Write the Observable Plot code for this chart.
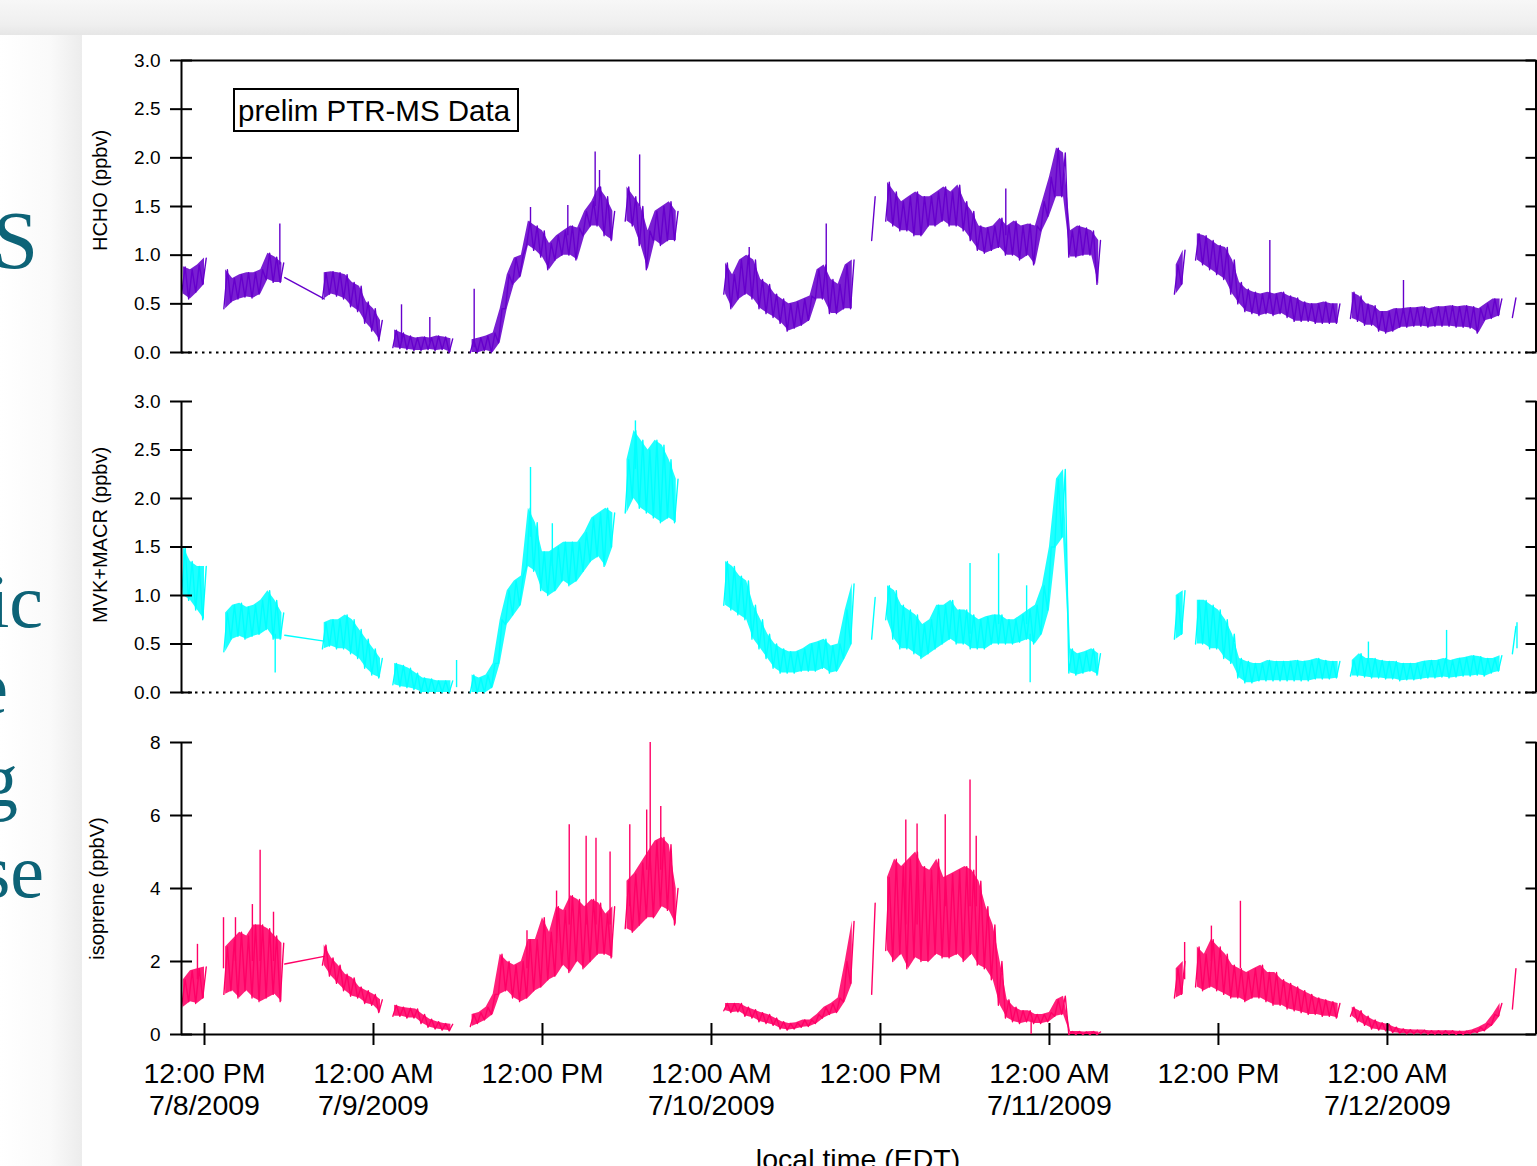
<!DOCTYPE html>
<html><head><meta charset="utf-8">
<script src="https://cdn.jsdelivr.net/npm/d3@7"></script>
<script src="https://cdn.jsdelivr.net/npm/@observablehq/plot@0.6"></script>
<style>
html,body{margin:0;padding:0}
body{width:1537px;height:1166px;overflow:hidden;position:relative;background:#fff;font-family:"Liberation Sans",Arial,sans-serif}
#topband{position:absolute;left:0;top:0;width:1537px;height:35px;background:linear-gradient(to bottom,#f7f7f7 0%,#efefef 70%,#e6e6e6 100%)}
#leftband{position:absolute;left:0;top:35px;width:82px;height:1131px;background:linear-gradient(to right,#ffffff 0px,#fafafa 50px,#ececec 82px)}
#frags{position:absolute;left:0;top:0}
.panel{position:absolute;left:0}
#legend{position:absolute;left:233px;top:88px;width:279px;height:40px;border:2px solid #000;font-size:29.5px;line-height:41px;padding-left:3px;box-sizing:content-box;white-space:nowrap}
#xtitle{position:absolute;left:181px;width:1354px;top:1145px;text-align:center;font-size:28.5px;line-height:28px;white-space:nowrap}
</style>
</head><body>
<div id="topband"></div>
<div id="leftband"></div>
<svg id="frags" width="82" height="1166" font-family="Liberation Serif, DejaVu Serif, serif" fill="#0d6377">
  <text x="38" y="268" text-anchor="end" font-size="82">S</text>
  <text x="43" y="627" text-anchor="end" font-size="76">ic</text>
  <text x="8" y="713" text-anchor="end" font-size="76">e</text>
  <text x="18" y="806" text-anchor="end" font-size="76">g</text>
  <text x="44" y="897" text-anchor="end" font-size="76">se</text>
</svg>
<div id="p1" class="panel" style="top:40px"></div>
<div id="p2" class="panel" style="top:381px"></div>
<div id="p3" class="panel" style="top:722px"></div>
<div id="legend">prelim PTR-MS Data</div>
<div id="xtitle">local time (EDT)</div>
<script>
// time in hours since 12:00 AM 7/8/2009 (EDT); rows: [hour, low, high] of the noisy trace per half hour
const xStart = 10.367, xEnd = 106.55;
const tickHours = [12, 24, 36, 48, 60, 72, 84, 96];
const tickTimes = ["12:00 PM","12:00 AM","12:00 PM","12:00 AM","12:00 PM","12:00 AM","12:00 PM","12:00 AM"];
const tickDates = ["7/8/2009","7/9/2009","","7/10/2009","","7/11/2009","","7/12/2009"];
const ppbTicks = [0, 0.5, 1, 1.5, 2, 2.5, 3];
const isoTicks = [0, 2, 4, 6, 8];

const hcho = [
 [10.5,.6,.88],[11,.55,.85],[11.5,.62,.9],[12,.7,.97],
 [13.5,.45,.85],[14,.52,.76],[14.5,.55,.8],[15,.57,.82],[15.5,.56,.82],[16,.6,.85],[16.5,.75,1.02],[17,.72,.98],[17.5,.72,.92],
 [20.5,.55,.82],[21,.6,.83],[21.5,.58,.82],[22,.55,.8],[22.5,.47,.72],[23,.42,.68],[23.5,.3,.52],[24,.22,.45],[24.5,.12,.33],
 [25.5,.05,.23],[26,.04,.2],[26.5,.03,.17],[27,.02,.15],[27.5,.02,.16],[28,.03,.15],[28.5,.02,.17],[29,.03,.16],[29.5,0,.14],
 [31,0,.13],[31.5,0,.15],[32,.02,.17],[32.5,0,.2],[33,.1,.45],[33.5,.45,.8],[34,.7,.97],[34.5,.78,1],[35,1.1,1.35],[35.5,1.05,1.3],[36,.98,1.25],[36.5,.85,1.12],[37,.95,1.2],[37.5,1,1.25],[38,1,1.3],[38.5,.95,1.28],[39,1.2,1.45],[39.5,1.3,1.55],[40,1.3,1.7],[40.5,1.2,1.6],[41,1.15,1.45],
 [42,1.35,1.7],[42.5,1.3,1.6],[43,1.1,1.5],[43.5,.85,1.25],[44,1.15,1.45],[44.5,1.1,1.5],[45,1.15,1.55],[45.5,1.15,1.45],
 [49,.6,.92],[49.5,.45,.8],[50,.55,.95],[50.5,.6,1],[51,.55,.95],[51.5,.45,.75],[52,.4,.7],[52.5,.36,.6],[53,.3,.55],[53.5,.22,.5],[54,.25,.52],[54.5,.28,.55],[55,.33,.58],[55.5,.55,.85],[56,.55,.9],[56.5,.4,.75],[57,.4,.7],[57.5,.45,.9],[58,.45,.95],
 [59.5,1.15,1.6],
 [60.5,1.35,1.75],[61,1.3,1.65],[61.5,1.25,1.55],[62,1.25,1.6],[62.5,1.2,1.65],[63,1.2,1.6],[63.5,1.3,1.6],[64,1.3,1.65],[64.5,1.35,1.7],[65,1.3,1.65],[65.5,1.3,1.72],[66,1.25,1.55],[66.5,1.15,1.45],[67,1.05,1.3],[67.5,1.02,1.28],[68,1.05,1.3],[68.5,1.08,1.38],[69,1,1.3],[69.5,1,1.35],[70,.95,1.3],[70.5,1,1.32],[71,.9,1.3],[71.5,1.25,1.55],[72,1.4,1.8],[72.5,1.6,2.1],[73,1.6,2.05],[73.5,.98,1.25],[74,.98,1.3],[74.5,1,1.28],[75,1,1.25],[75.5,.7,1.15],
 [81,.6,.9],[81.5,.7,1.05],
 [82.5,.95,1.22],[83,.9,1.2],[83.5,.85,1.15],[84,.8,1.1],[84.5,.75,1.08],[85,.6,.95],[85.5,.5,.72],[86,.42,.65],[86.5,.4,.62],[87,.38,.6],[87.5,.4,.62],[88,.38,.6],[88.5,.4,.62],[89,.36,.58],[89.5,.32,.56],[90,.32,.52],[90.5,.32,.5],[91,.3,.5],[91.5,.3,.52],[92,.3,.5],[92.5,.3,.5],
 [93.5,.35,.62],[94,.32,.58],[94.5,.28,.5],[95,.28,.48],[95.5,.22,.42],[96,.2,.42],[96.5,.22,.45],[97,.26,.45],[97.5,.26,.46],[98,.27,.46],[98.5,.27,.47],[99,.26,.45],[99.5,.27,.47],[100,.27,.47],[100.5,.27,.48],[101,.26,.47],[101.5,.26,.48],[102,.25,.47],[102.5,.2,.45],[103,.33,.5],[103.5,.35,.55],[104,.38,.55],
 [105,.36,.56]
];
const hchoSpikes = [[17.35,.9,1.32],[25.99,.1,.49],[28,.1,.36],[31.15,.05,.65],[35.15,1.3,1.49],[37.8,1.2,1.51],[39.74,1.5,2.06],[40.05,1.6,1.87],[42.9,1.5,2.03],[50.68,.9,1.08],[56.15,.8,1.32],[68.9,1.2,1.68],[87.65,.55,1.15],[97.14,.4,.74]];
const hchoBridge = [[17.7,.77],[20.5,.55]];

const mvk = [
 [10.5,1,1.5],[11,.95,1.35],[11.5,.85,1.3],[12,.75,1.3],
 [13.5,.42,.82],[14,.55,.9],[14.5,.58,.92],[15,.55,.88],[15.5,.58,.9],[16,.6,.95],[16.5,.65,1.05],[17,.55,.95],[17.5,.55,.82],
 [20.5,.45,.72],[21,.48,.75],[21.5,.45,.75],[22,.45,.8],[22.5,.4,.75],[23,.35,.65],[23.5,.25,.55],[24,.18,.45],[24.5,.15,.35],
 [25.5,.08,.3],[26,.06,.28],[26.5,.05,.25],[27,.03,.2],[27.5,0,.15],[28,0,.14],[28.5,0,.12],[29,0,.12],[29.5,0,.12],
 [31,0,.18],[31.5,0,.15],[32,0,.18],[32.5,.05,.3],[33,.3,.75],[33.5,.7,1.05],[34,.8,1.15],[34.5,.9,1.2],[35,1.3,1.9],[35.5,1.25,1.75],[36,1.05,1.45],[36.5,1,1.45],[37,1.05,1.5],[37.5,1.15,1.55],[38,1.1,1.55],[38.5,1.15,1.55],[39,1.25,1.65],[39.5,1.35,1.8],[40,1.4,1.85],[40.5,1.3,1.9],[41,1.5,1.85],
 [42,1.85,2.4],[42.5,2,2.7],[43,1.9,2.6],[43.5,1.85,2.5],[44,1.8,2.6],[44.5,1.75,2.55],[45,1.8,2.4],[45.5,1.75,2.2],
 [49,.9,1.35],[49.5,.85,1.3],[50,.8,1.2],[50.5,.75,1.15],[51,.55,.9],[51.5,.45,.75],[52,.35,.6],[52.5,.25,.5],[53,.2,.45],[53.5,.2,.42],[54,.2,.42],[54.5,.22,.45],[55,.22,.5],[55.5,.22,.52],[56,.25,.55],[56.5,.2,.48],[57,.22,.5],[57.5,.35,.85],[58,.5,1.12],
 [59.5,.55,.98],
 [60.5,.75,1.1],[61,.55,1.05],[61.5,.45,.9],[62,.45,.85],[62.5,.4,.8],[63,.35,.7],[63.5,.4,.75],[64,.45,.9],[64.5,.5,.9],[65,.55,.95],[65.5,.5,.85],[66,.5,.85],[66.5,.45,.8],[67,.45,.75],[67.5,.45,.78],[68,.5,.8],[68.5,.5,.8],[69,.5,.75],[69.5,.5,.75],[70,.52,.8],[70.5,.55,.85],[71,.5,.9],[71.5,.6,1.1],[72,.85,1.5],[72.5,1.5,2.2],[73,1.6,2.3],[73.5,.2,.45],[74,.18,.4],[74.5,.2,.42],[75,.22,.45],[75.5,.18,.4],
 [81,.55,1],[81.5,.6,1.05],
 [82.5,.5,.95],[83,.5,.95],[83.5,.45,.9],[84,.45,.85],[84.5,.35,.75],[85,.3,.6],[85.5,.15,.35],[86,.1,.32],[86.5,.1,.3],[87,.12,.3],[87.5,.12,.33],[88,.12,.32],[88.5,.12,.32],[89,.12,.32],[89.5,.12,.33],[90,.12,.32],[90.5,.12,.33],[91,.14,.35],[91.5,.14,.33],[92,.14,.32],[92.5,.15,.32],
 [93.5,.17,.33],[94,.17,.4],[94.5,.16,.35],[95,.15,.35],[95.5,.15,.33],[96,.14,.32],[96.5,.14,.32],[97,.12,.3],[97.5,.13,.3],[98,.13,.3],[98.5,.14,.32],[99,.15,.33],[99.5,.15,.33],[100,.16,.35],[100.5,.15,.33],[101,.16,.35],[101.5,.17,.36],[102,.17,.38],[102.5,.18,.37],[103,.17,.35],[103.5,.2,.35],[104,.22,.38],
 [105,.4,.68]
];
const mvkSpikes = [[17.02,.6,.2],[29.9,.05,.33],[35.15,1.6,2.32],[36.7,1.3,1.74],[42.6,2.3,2.8],[66.36,.6,1.33],[68.39,.7,1.43],[70.38,.7,1.1],[70.63,.6,.1],[94.65,.35,.52],[100.2,.3,.64],[105.2,.45,.72]];
const mvkBridge = [[17.7,.59],[20.5,.53]];

const isoprene = [
 [10.5,.75,1.5],[11,.9,1.75],[11.5,.85,1.8],[12,1,1.85],
 [13.5,1.1,2.4],[14,1.2,2.6],[14.5,1,2.8],[15,1.2,2.7],[15.5,1,3],[16,.9,3],[16.5,1,2.9],[17,1.1,2.7],[17.5,.9,2.5],
 [20.5,1.9,2.45],[21,1.6,2.1],[21.5,1.4,1.9],[22,1.2,1.65],[22.5,1.05,1.55],[23,1,1.3],[23.5,.85,1.2],[24,.8,1.1],[24.5,.6,.95],
 [25.5,.5,.8],[26,.5,.75],[26.5,.45,.72],[27,.45,.7],[27.5,.3,.55],[28,.2,.42],[28.5,.15,.35],[29,.12,.3],[29.5,.1,.28],
 [31,.22,.55],[31.5,.3,.6],[32,.4,.75],[32.5,.55,1.1],[33,1.1,2.2],[33.5,1.2,2],[34,1,1.9],[34.5,.9,2],[35,1,2.6],[35.5,1.2,2.6],[36,1.3,3.2],[36.5,1.5,2.8],[37,1.6,3.5],[37.5,1.9,3.4],[38,1.7,3.8],[38.5,2,3.7],[39,1.8,3.5],[39.5,2,3.7],[40,2.2,3.6],[40.5,2.2,3.3],[41,2.1,3.5],
 [42,2.9,4.2],[42.5,2.8,4.4],[43,3,4.7],[43.5,3.2,5],[44,3.2,5.3],[44.5,3.5,5.4],[45,3.4,5.2],[45.5,3,4],
 [49,.65,.85],[49.5,.6,.85],[50,.62,.85],[50.5,.5,.75],[51,.45,.68],[51.5,.35,.6],[52,.3,.55],[52.5,.25,.45],[53,.15,.35],[53.5,.12,.3],[54,.15,.32],[54.5,.2,.4],[55,.22,.4],[55.5,.3,.55],[56,.45,.75],[56.5,.55,.85],[57,.6,1],[57.5,.9,2],[58,1.4,3.1],
 [59.5,1.1,3.6],
 [60.5,2.3,4.3],[61,2,4.8],[61.5,2.2,4.6],[62,1.8,4.8],[62.5,2.1,5],[63,2,4.6],[63.5,2,4.5],[64,2.2,4.8],[64.5,2.1,4.3],[65,2.1,4.4],[65.5,2.2,4.5],[66,2,4.6],[66.5,2.2,4.5],[67,1.9,4.2],[67.5,1.8,3.5],[68,1.5,3],[68.5,.8,2],[69,.45,.95],[69.5,.35,.75],[70,.3,.65],[70.5,.35,.65],[71,.3,.55],[71.5,.3,.55],[72,.35,.6],[72.5,.5,.95],[73,.55,1.05],[73.5,0,.08],[74,0,.08],[74.5,0,.07],[75,0,.08],[75.5,0,.07],
 [81,1,1.8],[81.5,1.1,2],
 [82.5,1.3,2.4],[83,1.2,2.2],[83.5,1.3,2.6],[84,1.2,2.4],[84.5,1.1,2.2],[85,1,1.9],[85.5,1,1.8],[86,.9,1.7],[86.5,1,1.8],[87,1,1.9],[87.5,.9,1.7],[88,.8,1.7],[88.5,.8,1.5],[89,.7,1.4],[89.5,.65,1.3],[90,.6,1.2],[90.5,.55,1.1],[91,.55,1],[91.5,.5,.95],[92,.5,.9],[92.5,.45,.85],
 [93.5,.5,.75],[94,.35,.65],[94.5,.25,.5],[95,.15,.4],[95.5,.12,.32],[96,.1,.28],[96.5,.05,.2],[97,.03,.15],[97.5,.02,.13],[98,.02,.12],[98.5,.02,.12],[99,.01,.1],[99.5,.01,.1],[100,.01,.1],[100.5,.01,.1],[101,0,.09],[101.5,0,.09],[102,.02,.12],[102.5,.05,.2],[103,.1,.3],[103.5,.25,.55],[104,.5,.85],
 [105,.7,1.8]
];
const isopreneSpikes = [[11.5,1.5,2.47],[13.35,1.8,3.2],[14.2,2,3.2],[15.4,2,3.56],[15.95,2,5.05],[16.9,2,3.35],[34.9,1.8,2.84],[37,2.5,3.93],[37.9,3,5.75],[39.1,3,5.43],[39.8,3,5.38],[40.8,3,5],[42.2,3.5,5.75],[43.4,4.5,6.15],[43.65,4.5,8],[44.4,4.5,6.25],[61.8,3,5.88],[62.6,3,5.77],[64.6,3.5,6.02],[66.36,3.5,6.97],[66.8,3.5,5.43],[70.7,.4,0],[81.6,1.5,2.52],[83.5,2,2.97],[85.56,1.8,3.65]];
const isopreneBridge = [[17.7,1.93],[20.5,2.14]];

function build(rows) {
  const band = [], zig = [];
  rows.forEach(([t, lo, hi], i) => {
    if (i > 0 && t - rows[i - 1][0] > 0.75) {
      band.push({t: NaN, lo: NaN, hi: NaN});
      zig.push({t: NaN, v: NaN});
    }
    band.push({t, lo, hi});
    zig.push({t: t - 0.125, v: lo}, {t: t + 0.125, v: hi});
  });
  return {band, zig};
}

function panel(o) {
  const {band, zig} = build(o.rows);
  const marks = [
    Plot.ruleY([0], o.xAxis ? {stroke: "#000", strokeWidth: 2} : {stroke: "#000", strokeWidth: 2, strokeDasharray: "2.5,4.5"}),
    Plot.areaY(band, {x: "t", y1: "lo", y2: "hi", fill: o.color, fillOpacity: 0.88}),
    Plot.lineY(zig, {x: "t", y: "v", stroke: o.color, strokeWidth: 1.4}),
    Plot.ruleX(o.spikes, {x: d => d[0], y1: d => d[1], y2: d => d[2], stroke: o.color, strokeWidth: 1.4}),
    Plot.line(o.bridge, {x: d => d[0], y: d => d[1], stroke: o.color, strokeWidth: 1.4}),
    Plot.ruleX([xStart], {stroke: "#000", strokeWidth: 2}),
    Plot.ruleX([xEnd], {stroke: "#000", strokeWidth: 2}),
    Plot.axisY(o.yTicks, {anchor: "left", tickSize: 22, dx: 11, tickPadding: 10, tickFormat: o.fmt, strokeWidth: 2, fontSize: 19, label: null}),
    Plot.axisY(o.yTicks, {anchor: "right", tickSize: 11, dx: -11, tickFormat: () => "", strokeWidth: 2, label: null}),
    Plot.text([o.label], {frameAnchor: "left", textAnchor: "middle", lineAnchor: "middle", rotate: -90, dx: o.labelDx, dy: o.labelDy, fontSize: 20, text: d => d})
  ];
  if (o.topLine) marks.push(Plot.ruleY([o.yDomain[1]], {stroke: "#000", strokeWidth: 2}));
  if (o.xAxis) marks.push(Plot.axisX(tickHours, {
    anchor: "bottom", tickSize: 22, dy: -11, tickPadding: 15, strokeWidth: 2, fontSize: 28.5, lineHeight: 1.12, label: null,
    tickFormat: d => { const i = tickHours.indexOf(d); return tickDates[i] ? tickTimes[i] + "\n" + tickDates[i] : tickTimes[i]; }
  }));
  return Plot.plot({
    width: 1537, height: o.height, marginLeft: 181, marginRight: 1.5, marginTop: 20, marginBottom: o.marginBottom,
    x: o.xAxis ? {domain: [xStart, xEnd]} : {domain: [xStart, xEnd], axis: null},
    y: {domain: o.yDomain},
    style: {fontFamily: "Liberation Sans, Arial, sans-serif", fontSize: "19px", background: "transparent", overflow: "visible", color: "#000"},
    marks
  });
}

const f1 = d3.format(".1f");
document.getElementById("p1").append(panel({rows: hcho, spikes: hchoSpikes, bridge: hchoBridge, color: "#6600cc", yDomain: [0, 3], yTicks: ppbTicks, fmt: f1, label: "HCHO (ppbv)", labelDx: -81, labelDy: -16, topLine: true, height: 322, marginBottom: 10}));
document.getElementById("p2").append(panel({rows: mvk, spikes: mvkSpikes, bridge: mvkBridge, color: "#00ffff", yDomain: [0, 3], yTicks: ppbTicks, fmt: f1, label: "MVK+MACR (ppbv)", labelDx: -81, labelDy: -12, height: 321, marginBottom: 10}));
document.getElementById("p3").append(panel({rows: isoprene, spikes: isopreneSpikes, bridge: isopreneBridge, color: "#ff0066", yDomain: [0, 8], yTicks: isoTicks, fmt: d3.format("d"), label: "isoprene (ppbV)", labelDx: -84, labelDy: 0, xAxis: true, height: 412, marginBottom: 100}));
</script>
</body></html>
